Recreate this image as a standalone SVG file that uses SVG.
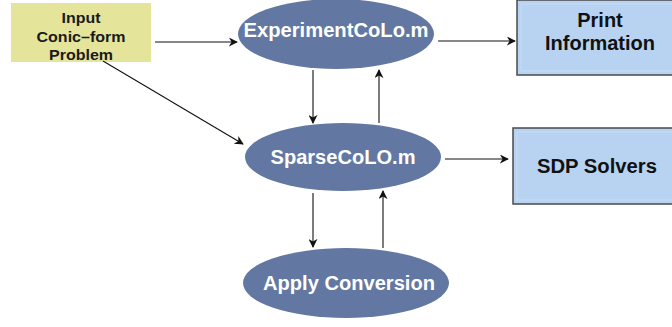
<svg xmlns="http://www.w3.org/2000/svg" width="672" height="327" viewBox="0 0 672 327">
  <style>
    .oval { fill: #6277a1; }
    .oval-text { font-family: "Liberation Sans", Arial, sans-serif; font-weight: bold; font-size: 20px; fill: #ffffff; text-anchor: middle; }
    .box { fill: #b8d3f1; stroke: #4a4a4a; stroke-width: 1.5; }
    .box-inner { fill: none; stroke: #c7dcf6; stroke-width: 1; }
    .box-text { font-family: "Liberation Sans", Arial, sans-serif; font-weight: bold; font-size: 20px; fill: #111111; text-anchor: middle; }
    .input-box { fill: #e4e59b; }
    .input-text { font-family: "Liberation Sans", Arial, sans-serif; font-weight: bold; font-size: 15px; fill: #1a1a1a; text-anchor: middle; }
    .edge { stroke: #111111; stroke-width: 1.1; fill: none; marker-end: url(#arrow); }
  </style>
  <defs>
    <marker id="arrow" viewBox="0 0 10 10" refX="9" refY="5" markerWidth="9" markerHeight="9" markerUnits="userSpaceOnUse" orient="auto">
      <path d="M0,0 L10,5 L0,10 L3,5 Z" fill="#111111"/>
    </marker>
  </defs>

  <g id="input">
    <rect class="input-box" x="11" y="3" width="140" height="59"/>
    <text class="input-text" x="81" y="23" textLength="39" lengthAdjust="spacingAndGlyphs">Input</text>
    <text class="input-text" x="81" y="42" textLength="89" lengthAdjust="spacingAndGlyphs">Conic–form</text>
    <text class="input-text" x="81" y="60" textLength="64" lengthAdjust="spacingAndGlyphs">Problem</text>
  </g>

  <g id="experiment">
    <ellipse class="oval" cx="336" cy="34" rx="98" ry="35"/>
    <text class="oval-text" x="336" y="37" textLength="185" lengthAdjust="spacingAndGlyphs">ExperimentCoLo.m</text>
  </g>

  <g id="print">
    <rect class="box" x="517" y="0" width="160" height="75"/>
    <rect class="box-inner" x="521" y="4" width="156" height="67"/>
    <text class="box-text" x="600" y="27">Print</text>
    <text class="box-text" x="600" y="50" textLength="110" lengthAdjust="spacingAndGlyphs">Information</text>
  </g>

  <g id="sparse">
    <ellipse class="oval" cx="343" cy="157" rx="98" ry="34"/>
    <text class="oval-text" x="343" y="164" textLength="145" lengthAdjust="spacingAndGlyphs">SparseCoLO.m</text>
  </g>

  <g id="sdp">
    <rect class="box" x="513" y="128" width="164" height="76"/>
    <rect class="box-inner" x="517" y="132" width="160" height="68"/>
    <text class="box-text" x="597" y="173" textLength="120" lengthAdjust="spacingAndGlyphs">SDP Solvers</text>
  </g>

  <g id="apply">
    <ellipse class="oval" cx="346" cy="283" rx="103" ry="35"/>
    <text class="oval-text" x="349" y="290" textLength="172" lengthAdjust="spacingAndGlyphs">Apply Conversion</text>
  </g>

  <g id="connectors">
    <path class="edge" d="M155,42 L237,42"/>
    <path class="edge" d="M103,61 L243,144"/>
    <path class="edge" d="M438,41 L515,41"/>
    <path class="edge" d="M313,70 L313,123"/>
    <path class="edge" d="M379,123 L379,70"/>
    <path class="edge" d="M445,159 L508,159"/>
    <path class="edge" d="M313,193 L313,247"/>
    <path class="edge" d="M383,248 L383,191"/>
  </g>
</svg>
